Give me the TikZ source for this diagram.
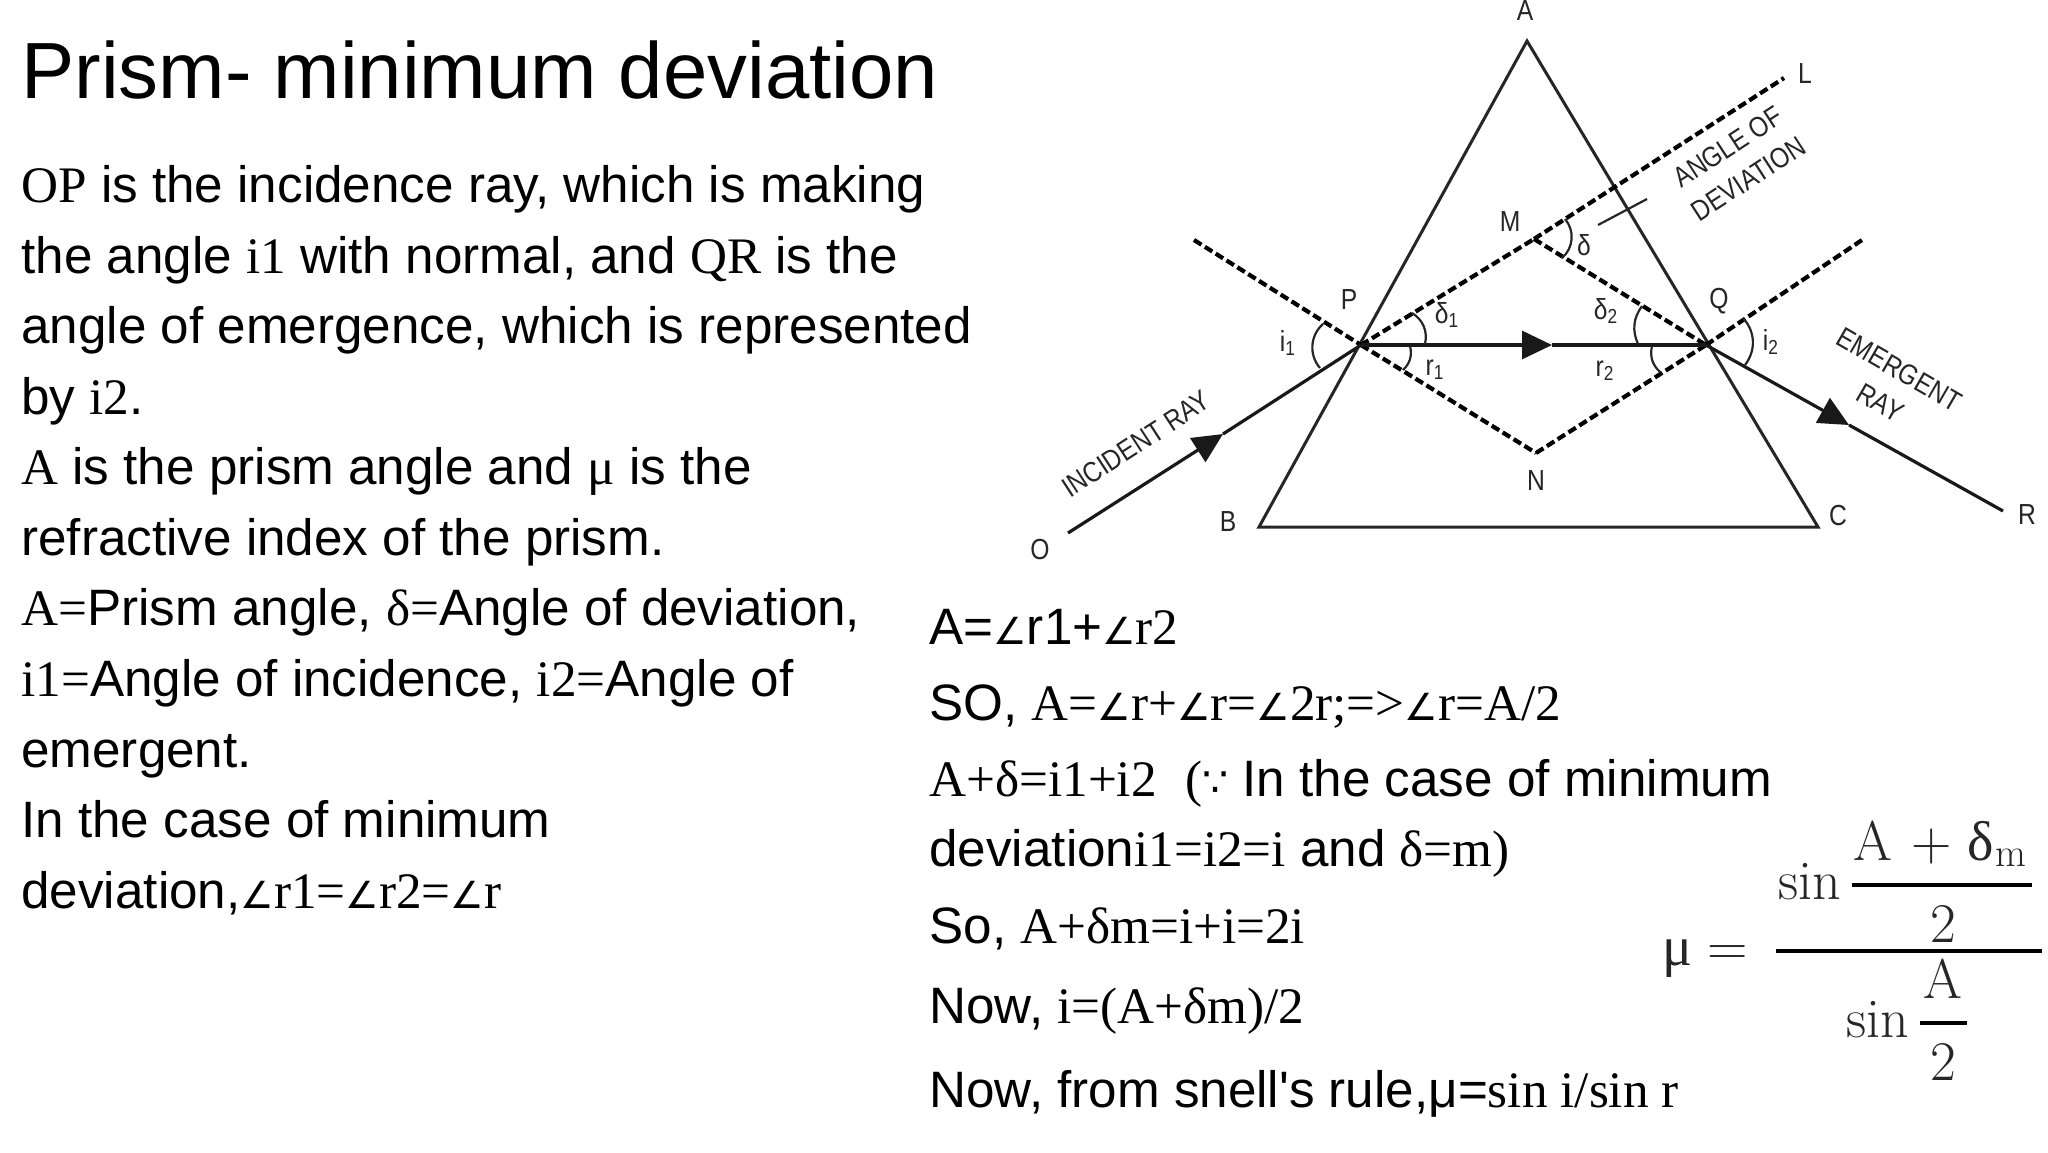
\documentclass[tikz,border=0pt]{standalone}
\usepackage[no-math]{fontspec}
\usetikzlibrary{arrows.meta}
\newfontfamily\sansf{Liberation Sans}
\newfontfamily\serf{Liberation Serif}
\newfontfamily\angf{DejaVu Sans}
\newfontfamily\diagf[FakeStretch=0.85]{Liberation Sans}
\newfontfamily\lmrf{Latin Modern Roman}
\newcommand{\angl}{{\angf\scalebox{0.73}{\char"2220}}}
\newcommand{\ser}[1]{{\serf #1}}
\tikzset{
  txt/.style={anchor=base west,inner sep=0pt,font=\fontsize{25.6}{30}\sansf},
  ttl/.style={anchor=base west,inner sep=0pt,font=\fontsize{39.85}{46}\sansf},
  lab/.style={inner sep=0pt,text=black!85,font=\fontsize{14.5}{17}\diagf},
  tag/.style={inner sep=0pt,align=center,text=black!85,font=\fontsize{14.3}{17}\diagf},
  edge/.style={line width=1.5pt,black!85},
  ray/.style={line width=1.6pt,black!90},
  raya/.style={ray,-{Triangle[length=15pt,width=14pt]}},
  dots/.style={line width=2.1pt,black,dash pattern=on 4.4pt off 2pt},
  angarc/.style={line width=1.1pt,black!85},
  frm/.style={inner sep=0pt,anchor=base,text=black!85,font=\fontsize{28}{34}\lmrf},
  frmg/.style={inner sep=0pt,anchor=base,text=black!85,font=\fontsize{28}{34}\serf},
  frule/.style={line width=1.7pt,black}
}
\begin{document}
\begin{tikzpicture}[x=0.5pt,y=-0.5pt]
\useasboundingbox[fill=white] (0,0) rectangle (2048,1152);
% text, left
\node[ttl] (title) at (21,98) {Prism- minimum deviation};
\node[txt] (l1) at (21,202) {\ser{OP} is the incidence ray, which is making};
\node[txt] (l2) at (21,273) {the angle \ser{i1} with normal, and \ser{QR} is the};
\node[txt] (l3) at (21,343) {angle of emergence, which is represented};
\node[txt] (l4) at (21,414) {by \ser{i2}.};
\node[txt] (l5) at (21,484) {\ser{A} is the prism angle and \ser{μ} is the};
\node[txt] (l6) at (21,555) {refractive index of the prism.};
\node[txt] (l7) at (21,625) {\ser{A=}Prism angle, \ser{δ=}Angle of deviation,};
\node[txt] (l8) at (21,696) {\ser{i1=}Angle of incidence, \ser{i2=}Angle of};
\node[txt] (l9) at (21,767) {emergent.};
\node[txt] (l10) at (21,837) {In the case of minimum};
\node[txt] (l11) at (21,908) {deviation,\angl\ser{r1=}\angl\ser{r2=}\angl\ser{r}};
% text, right
\node[txt] (m1) at (929,644) {A=\angl r1+\angl\ser{r2}};
\node[txt] (m2) at (929,720) {SO, \ser{A=\angl r+\angl r=\angl 2r;=>\angl r=A/2}};
\node[txt] (m3) at (929,796) {\ser{A+δ=i1+i2} \ \ser{(}{\angf\scalebox{0.8}{∵}} In the case of minimum};
\node[txt] (m4) at (929,866) {deviation\ser{i1=i2=i} and \ser{δ=m)}};
\node[txt] (m5) at (929,943) {So, \ser{A+δm=i+i=2i}};
\node[txt] (m6) at (929,1023) {Now, \ser{i=(A+δm)/2}};
\node[txt] (m7) at (929,1107) {Now, from snell's rule,μ=\ser{sin i/sin r}};
% formula
\node[frmg] (fmu) at (1677,965) {μ};
\node[frm] (feq) at (1728,965) {=};
\node[frm] (fs1) at (1810,899) {sin};
\node[frm] (fa1) at (1873,860) {A};
\node[frm] (fp) at (1932,860) {+};
\node[frmg] (fd) at (1981,860) {δ};
\node[frm,font=\fontsize{20}{24}\lmrf] (fm) at (2011,866) {m};
\node[frm] (f21) at (1943,942) {2};
\node[frm] (fa2) at (1943,998) {A};
\node[frm] (fs2) at (1878,1037) {sin};
\node[frm] (f22) at (1943,1080) {2};
\coordinate (r1a) at (1852,885); \coordinate (r1b) at (2032,885);
\coordinate (r2a) at (1776,951); \coordinate (r2b) at (2042,951);
\coordinate (r3a) at (1920,1023); \coordinate (r3b) at (1967,1023);
\draw[frule] (r1a) -- (r1b);
\draw[frule] (r2a) -- (r2b);
\draw[frule] (r3a) -- (r3b);
% geometry points
\coordinate (A) at (1527,41);
\coordinate (B) at (1259,527);
\coordinate (C) at (1818,527);
\coordinate (P) at (1361,345);
\coordinate (Q) at (1706,345);
\coordinate (M) at (1534,239);
\coordinate (N) at (1536,453);
\coordinate (Lp) at (1784,78);
\coordinate (NL) at (1194,240);
\coordinate (NR) at (1862,240);
\coordinate (Op) at (1068,533);
\coordinate (Rp) at (2003,511);
\coordinate (t1) at (1223,434);
\coordinate (t2) at (1552,345);
\coordinate (t3) at (1849,425);
% prism
\draw[edge,line join=miter] (A) -- (B) -- (C) -- cycle;
% dotted
\draw[dots] (NL) -- (P);
\draw[dots] (P) -- (N);
\draw[dots] (N) -- (Q);
\draw[dots] (Q) -- (NR);
\draw[dots] (P) -- (M);
\draw[dots] (M) -- (Lp);
\draw[dots] (M) -- (Q);
% rays
\draw[raya] (Op) -- (t1);
\draw[ray] (t1) -- (P);
\draw[raya] (P) -- (t2);
\draw[ray] (t2) -- (Q);
\draw[raya] (Q) -- (t3);
\draw[ray] (t3) -- (Rp);
% tick
\coordinate (ta) at (1598,225); \coordinate (tb) at (1647,199);
\draw[angarc] (ta) -- (tb);
% angle arcs
\draw[angarc] (1323,324) to[bend right=45] (1320,368);
\draw[angarc] (1565,219) to[bend left=45] (1562,258);
\draw[angarc] (1412,313) to[bend left=35] (1425,344);
\draw[angarc] (1410,346) to[bend left=30] (1403,370);
\draw[angarc] (1642,306) to[bend right=30] (1638,344);
\draw[angarc] (1652,346) to[bend right=30] (1660,372);
\draw[angarc] (1743,318) to[bend left=40] (1745,365);
% labels
\node[lab] (lA) at (1525,11) {A};
\node[lab] (lL) at (1805,74) {L};
\node[lab] (lM) at (1510,222) {M};
\node[lab] (lP) at (1349,300) {P};
\node[lab] (lQ) at (1719,301) {Q};
\node[lab] (lN) at (1536,481) {N};
\node[lab] (lB) at (1228,522) {B};
\node[lab] (lC) at (1838,516) {C};
\node[lab] (lO) at (1040,550) {O};
\node[lab] (lR) at (2027,515) {R};
\node[lab] (li1) at (1288,343) {i\textsubscript{1}};
\node[lab] (li2) at (1771,342) {i\textsubscript{2}};
\node[lab] (ld) at (1584,245) {δ};
\node[lab] (ld1) at (1447,315) {δ\textsubscript{1}};
\node[lab] (ld2) at (1606,311) {δ\textsubscript{2}};
\node[lab] (lr1) at (1435,370) {r\textsubscript{1}};
\node[lab] (lr2) at (1605,371) {r\textsubscript{2}};
\node[tag,rotate=33] (inc) at (1136,444) {INCIDENT RAY};
\node[tag,rotate=33] (dev) at (1738,163) {ANGLE OF\\[2pt]DEVIATION};
\node[tag,rotate=-30] (eme) at (1890,386) {EMERGENT\\[2pt]RAY};
\end{tikzpicture}
\end{document}
